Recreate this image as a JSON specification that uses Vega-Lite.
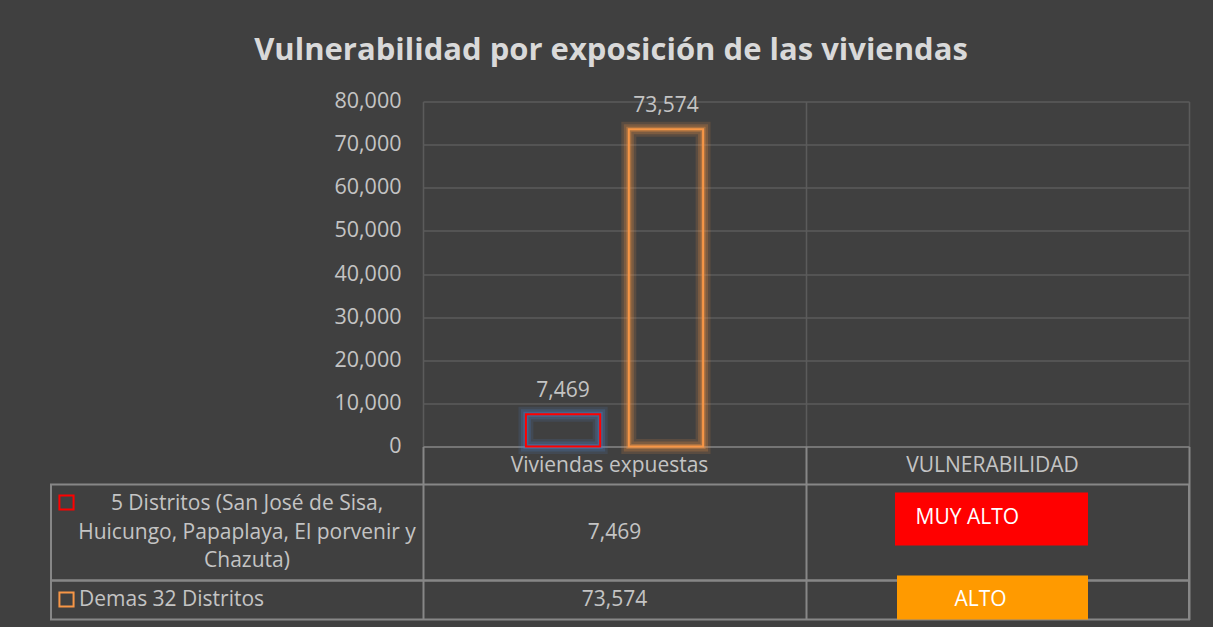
{
  "$schema": "https://vega.github.io/schema/vega-lite/v6.json",
  "background": "#404040",
  "padding": {"left": 50, "right": 24, "top": 34.5, "bottom": 7},
  "title": {
    "text": "Vulnerabilidad por exposición de las viviendas",
    "font": "Open Sans",
    "fontSize": 31,
    "fontWeight": "bold",
    "color": "#d9d9d9",
    "anchor": "middle",
    "dx": -9,
    "offset": 24
  },
  "config": {
    "font": "Open Sans",
    "view": {"stroke": null},
    "text": {"font": "Open Sans", "fontSize": 21, "color": "#c4c4c4"}
  },
  "datasets": {
    "tabla": [
      {"serie": "5 Distritos (San José de Sisa,\nHuicungo, Papaplaya, El porvenir y\nChazuta)", "viviendas": 7469, "vulnerabilidad": "MUY ALTO"},
      {"serie": "Demas 32 Distritos", "viviendas": 73574, "vulnerabilidad": "ALTO"}
    ],
    "columnas": [{"columna": "Viviendas expuestas"}, {"columna": "VULNERABILIDAD"}]
  },
  "spacing": 0,
  "bounds": "flush",
  "vconcat": [
    {
      "width": 1138,
      "height": 345,
      "data": {"name": "tabla"},
      "encoding": {
        "x": {
          "datum": "Viviendas expuestas",
          "type": "nominal",
          "scale": {"domain": ["Viviendas expuestas", "VULNERABILIDAD"], "range": [372, 1138], "paddingInner": 0, "paddingOuter": 0},
          "axis": {"grid": true, "tickBand": "extent", "labels": false, "ticks": false, "domain": false, "title": null, "gridColor": "#5b5b5b", "gridWidth": 1.5}
        },
        "xOffset": {"field": "serie", "type": "nominal", "scale": {"paddingInner": 0.2784, "paddingOuter": 1.1134}},
        "y": {
          "field": "viviendas",
          "type": "quantitative",
          "scale": {"domain": [0, 80000]},
          "axis": {
            "title": null,
            "offset": -372,
            "tickCount": 8,
            "ticks": false,
            "domain": false,
            "labelPadding": 22,
            "labelFontSize": 21.5,
            "labelFont": "Open Sans",
            "labelColor": "#c4c4c4",
            "gridColor": {"condition": {"test": "datum.value === 0", "value": "#878787"}, "value": "#5b5b5b"},
            "gridWidth": 1.5
          }
        }
      },
      "layer": [
        {
          "mark": {"type": "bar", "fillOpacity": 0, "strokeWidth": 15, "strokeOpacity": 0.14},
          "encoding": {"stroke": {"field": "serie", "type": "nominal", "legend": null, "scale": {"range": ["#4f7fc8", "#f79646"]}}}
        },
        {
          "mark": {"type": "bar", "fillOpacity": 0, "strokeWidth": 10, "strokeOpacity": 0.22},
          "encoding": {"stroke": {"field": "serie", "type": "nominal", "legend": null, "scale": {"range": ["#4f7fc8", "#f79646"]}}}
        },
        {
          "mark": {"type": "bar", "fillOpacity": 0, "strokeWidth": 5, "strokeOpacity": 0.35},
          "encoding": {"stroke": {"field": "serie", "type": "nominal", "legend": null, "scale": {"range": ["#4f7fc8", "#f79646"]}}}
        },
        {
          "mark": {"type": "bar", "fillOpacity": 0, "strokeWidth": 2},
          "encoding": {"stroke": {"field": "serie", "type": "nominal", "legend": null, "scale": {"range": ["#ff0000", "#f79646"]}}}
        },
        {
          "mark": {"type": "text", "baseline": "alphabetic", "dy": -17, "fontSize": 21, "color": "#c4c4c4"},
          "encoding": {"text": {"field": "viviendas", "type": "quantitative", "format": ","}}
        }
      ],
      "resolve": {"scale": {"stroke": "independent"}}
    },
    {
      "width": 1138,
      "height": 38,
      "data": {"name": "columnas"},
      "mark": {"type": "text", "fontSize": 21, "color": "#c4c4c4", "dx": -5},
      "encoding": {
        "x": {
          "field": "columna",
          "type": "nominal",
          "scale": {"domain": ["Viviendas expuestas", "VULNERABILIDAD"], "range": [372, 1138], "paddingInner": 0, "paddingOuter": 0},
          "axis": {"grid": true, "tickBand": "extent", "labels": false, "ticks": false, "domain": false, "title": null, "gridColor": "#878787", "gridWidth": 2}
        },
        "text": {"field": "columna"}
      }
    },
    {
      "width": 1138,
      "height": 96,
      "view": {"stroke": "#878787", "strokeWidth": 2},
      "data": {"name": "tabla"},
      "transform": [{"filter": {"field": "vulnerabilidad", "equal": "MUY ALTO"}}],
      "layer": [
        {
          "mark": {"type": "text", "fontSize": 21, "color": "#c4c4c4"},
          "encoding": {
            "x": {
              "datum": "Viviendas expuestas",
              "type": "nominal",
              "scale": {"domain": ["Viviendas expuestas", "VULNERABILIDAD"], "range": [372, 1138], "paddingInner": 0, "paddingOuter": 0},
              "axis": {"grid": true, "tickBand": "extent", "labels": false, "ticks": false, "domain": false, "title": null, "gridColor": "#878787", "gridWidth": 2}
            },
            "text": {"field": "viviendas", "type": "quantitative", "format": ","}
          }
        },
        {
          "mark": {"type": "bar", "color": "#ff0000", "width": 193, "height": 53, "xOffset": -6, "yOffset": -13.5},
          "encoding": {
            "x": {
              "datum": "VULNERABILIDAD",
              "type": "nominal",
              "scale": {"domain": ["Viviendas expuestas", "VULNERABILIDAD"], "range": [372, 1138], "paddingInner": 0, "paddingOuter": 0},
              "axis": null
            },
            "y": {"field": "vulnerabilidad", "type": "nominal", "axis": null}
          }
        },
        {
          "mark": {"type": "text", "fontSize": 21, "color": "#ffffff", "align": "left", "dx": -82, "dy": -14.5},
          "encoding": {
            "x": {
              "datum": "VULNERABILIDAD",
              "type": "nominal",
              "scale": {"domain": ["Viviendas expuestas", "VULNERABILIDAD"], "range": [372, 1138], "paddingInner": 0, "paddingOuter": 0},
              "axis": null
            },
            "text": {"field": "vulnerabilidad"}
          }
        },
        {
          "mark": {"type": "text", "fontSize": 21, "color": "#c4c4c4", "lineBreak": "\n", "lineHeight": 28.5, "align": "center", "dx": 10, "dy": -28.5},
          "encoding": {
            "x": {"datum": "Serie", "type": "nominal", "scale": {"domain": ["Serie"], "range": [0, 372], "paddingInner": 0, "paddingOuter": 0}, "axis": null},
            "text": {"field": "serie"}
          }
        },
        {
          "mark": {"type": "point", "shape": "square", "filled": false, "size": 200, "strokeWidth": 2, "color": "#ff0000", "opacity": 1, "xOffset": -170.5, "yOffset": -30},
          "encoding": {
            "x": {"datum": "Serie", "type": "nominal", "scale": {"domain": ["Serie"], "range": [0, 372], "paddingInner": 0, "paddingOuter": 0}, "axis": null}
          }
        }
      ],
      "resolve": {"scale": {"x": "independent"}}
    },
    {
      "width": 1138,
      "height": 39,
      "view": {"stroke": "#878787", "strokeWidth": 2},
      "data": {"name": "tabla"},
      "transform": [{"filter": {"field": "vulnerabilidad", "equal": "ALTO"}}],
      "layer": [
        {
          "mark": {"type": "text", "fontSize": 21, "color": "#c4c4c4"},
          "encoding": {
            "x": {
              "datum": "Viviendas expuestas",
              "type": "nominal",
              "scale": {"domain": ["Viviendas expuestas", "VULNERABILIDAD"], "range": [372, 1138], "paddingInner": 0, "paddingOuter": 0},
              "axis": {"grid": true, "tickBand": "extent", "labels": false, "ticks": false, "domain": false, "title": null, "gridColor": "#878787", "gridWidth": 2}
            },
            "text": {"field": "viviendas", "type": "quantitative", "format": ","}
          }
        },
        {
          "mark": {"type": "bar", "color": "#ff9a00", "width": 191, "height": 44, "xOffset": -5, "yOffset": -2.5},
          "encoding": {
            "x": {
              "datum": "VULNERABILIDAD",
              "type": "nominal",
              "scale": {"domain": ["Viviendas expuestas", "VULNERABILIDAD"], "range": [372, 1138], "paddingInner": 0, "paddingOuter": 0},
              "axis": null
            },
            "y": {"field": "vulnerabilidad", "type": "nominal", "axis": null}
          }
        },
        {
          "mark": {"type": "text", "fontSize": 21, "color": "#ffffff", "align": "center", "dx": -17},
          "encoding": {
            "x": {
              "datum": "VULNERABILIDAD",
              "type": "nominal",
              "scale": {"domain": ["Viviendas expuestas", "VULNERABILIDAD"], "range": [372, 1138], "paddingInner": 0, "paddingOuter": 0},
              "axis": null
            },
            "text": {"field": "vulnerabilidad"}
          }
        },
        {
          "mark": {"type": "text", "fontSize": 21, "color": "#c4c4c4", "align": "left", "dx": -158},
          "encoding": {
            "x": {"datum": "Serie", "type": "nominal", "scale": {"domain": ["Serie"], "range": [0, 372], "paddingInner": 0, "paddingOuter": 0}, "axis": null},
            "text": {"field": "serie"}
          }
        },
        {
          "mark": {"type": "point", "shape": "square", "filled": false, "size": 200, "strokeWidth": 2, "color": "#f79646", "opacity": 1, "xOffset": -170.5, "yOffset": -0.5},
          "encoding": {
            "x": {"datum": "Serie", "type": "nominal", "scale": {"domain": ["Serie"], "range": [0, 372], "paddingInner": 0, "paddingOuter": 0}, "axis": null}
          }
        }
      ],
      "resolve": {"scale": {"x": "independent"}}
    }
  ]
}
